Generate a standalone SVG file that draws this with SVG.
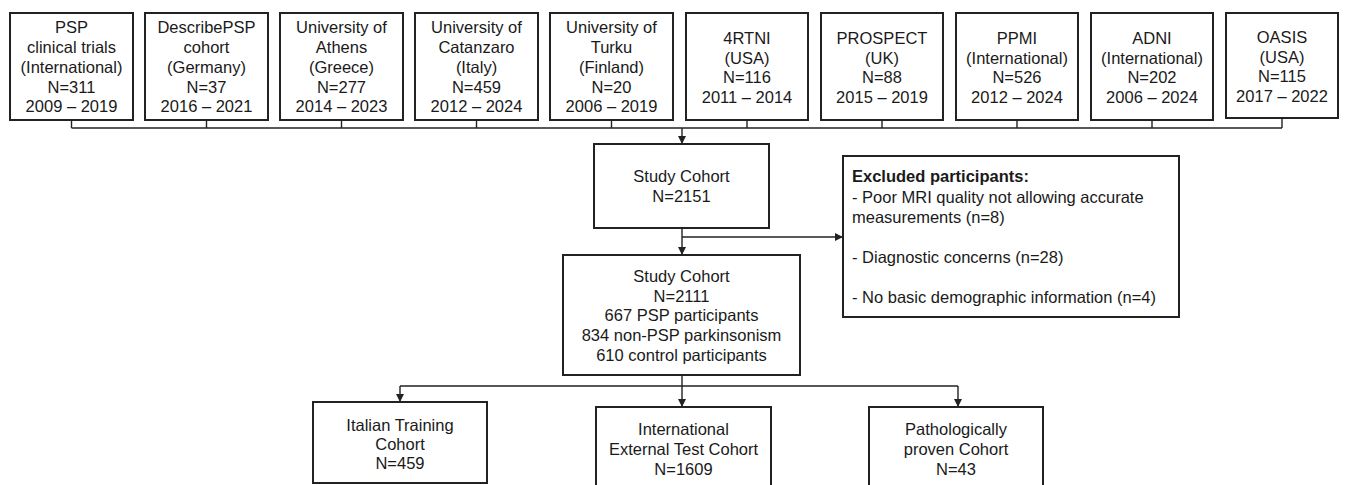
<svg xmlns="http://www.w3.org/2000/svg" width="1349" height="485" viewBox="0 0 1349 485">
<defs>
<style>
.box{fill:#fff;stroke:#222;stroke-width:2}
.ln{fill:none;stroke:#222;stroke-width:1.4}
text{font-family:"Liberation Sans",Arial,sans-serif;font-size:16.5px;fill:#1a1a1a}
.c{text-anchor:middle}
.b{font-weight:bold}
</style>
<marker id="ah" markerWidth="8" markerHeight="8" refX="7" refY="4" orient="auto" markerUnits="userSpaceOnUse">
<path d="M0,0 L8,4 L0,8 Z" fill="#222"/>
</marker>
</defs>
<rect width="1349" height="485" fill="#fff"/>

<g id="connectors">
<path class="ln" d="M71.5,120 V128 M206.5,120 V128 M341.5,120 V128 M476.5,120 V128 M611.5,120 V128 M747,120 V128 M882,120 V128 M1017,120 V128 M1152,120 V128 M1282,119 V128 M71.5,128 H1282"/>
<path class="ln" d="M682,128 V143" marker-end="url(#ah)"/>
<path class="ln" d="M682,228 V254" marker-end="url(#ah)"/>
<path class="ln" d="M682,237 H842" marker-end="url(#ah)"/>
<path class="ln" d="M682,375 V386 M400,386 H958"/>
<path class="ln" d="M400,386 V401" marker-end="url(#ah)"/>
<path class="ln" d="M682,386 V406" marker-end="url(#ah)"/>
<path class="ln" d="M958,386 V406" marker-end="url(#ah)"/>
</g>

<g id="n1"><rect class="box" x="10" y="13" width="123" height="107"/>
<text class="c" x="71.5" y="33">PSP</text><text class="c" x="71.5" y="53">clinical trials</text><text class="c" x="71.5" y="73">(International)</text><text class="c" x="71.5" y="92.5">N=311</text><text class="c" x="71.5" y="112">2009 – 2019</text></g>
<g id="n2"><rect class="box" x="145" y="13" width="123" height="107"/>
<text class="c" x="206.5" y="33">DescribePSP</text><text class="c" x="206.5" y="53">cohort</text><text class="c" x="206.5" y="73">(Germany)</text><text class="c" x="206.5" y="92.5">N=37</text><text class="c" x="206.5" y="112">2016 – 2021</text></g>
<g id="n3"><rect class="box" x="280" y="13" width="123" height="107"/>
<text class="c" x="341.5" y="33">University of</text><text class="c" x="341.5" y="53">Athens</text><text class="c" x="341.5" y="73">(Greece)</text><text class="c" x="341.5" y="92.5">N=277</text><text class="c" x="341.5" y="112">2014 – 2023</text></g>
<g id="n4"><rect class="box" x="415" y="13" width="123" height="107"/>
<text class="c" x="476.5" y="33">University of</text><text class="c" x="476.5" y="53">Catanzaro</text><text class="c" x="476.5" y="73">(Italy)</text><text class="c" x="476.5" y="92.5">N=459</text><text class="c" x="476.5" y="112">2012 – 2024</text></g>
<g id="n5"><rect class="box" x="550" y="13" width="123" height="107"/>
<text class="c" x="611.5" y="33">University of</text><text class="c" x="611.5" y="53">Turku</text><text class="c" x="611.5" y="73">(Finland)</text><text class="c" x="611.5" y="92.5">N=20</text><text class="c" x="611.5" y="112">2006 – 2019</text></g>
<g id="n6"><rect class="box" x="686" y="13" width="122" height="107"/>
<text class="c" x="747" y="44">4RTNI</text><text class="c" x="747" y="63.5">(USA)</text><text class="c" x="747" y="83">N=116</text><text class="c" x="747" y="102.5">2011 – 2014</text></g>
<g id="n7"><rect class="box" x="821" y="13" width="122" height="107"/>
<text class="c" x="882" y="44">PROSPECT</text><text class="c" x="882" y="63.5">(UK)</text><text class="c" x="882" y="83">N=88</text><text class="c" x="882" y="102.5">2015 – 2019</text></g>
<g id="n8"><rect class="box" x="956" y="13" width="122" height="107"/>
<text class="c" x="1017" y="44">PPMI</text><text class="c" x="1017" y="63.5">(International)</text><text class="c" x="1017" y="83">N=526</text><text class="c" x="1017" y="102.5">2012 – 2024</text></g>
<g id="n9"><rect class="box" x="1091" y="13" width="122" height="107"/>
<text class="c" x="1152" y="44">ADNI</text><text class="c" x="1152" y="63.5">(International)</text><text class="c" x="1152" y="83">N=202</text><text class="c" x="1152" y="102.5">2006 – 2024</text></g>
<g id="n10"><rect class="box" x="1226" y="13" width="112" height="105"/>
<text class="c" x="1282" y="43">OASIS</text><text class="c" x="1282" y="62.5">(USA)</text><text class="c" x="1282" y="82">N=115</text><text class="c" x="1282" y="101.5">2017 – 2022</text></g>

<g id="study1"><rect class="box" x="594" y="144" width="175" height="84"/>
<text class="c" x="681.5" y="182">Study Cohort</text><text class="c" x="681.5" y="202">N=2151</text></g>

<g id="excluded"><rect class="box" x="843" y="156" width="336" height="161"/>
<text class="b" x="852" y="182">Excluded participants:</text>
<text x="852" y="203">- Poor MRI quality not allowing accurate</text>
<text x="852" y="223">measurements (n=8)</text>
<text x="852" y="263">- Diagnostic concerns (n=28)</text>
<text x="852" y="303">- No basic demographic information (n=4)</text></g>

<g id="study2"><rect class="box" x="563" y="255" width="237" height="120"/>
<text class="c" x="681.5" y="282">Study Cohort</text><text class="c" x="681.5" y="302">N=2111</text><text class="c" x="681.5" y="321">667 PSP participants</text><text class="c" x="681.5" y="341">834 non-PSP parkinsonism</text><text class="c" x="681.5" y="361">610 control participants</text></g>

<g id="italian"><rect class="box" x="313" y="402" width="174" height="81"/>
<text class="c" x="400" y="431">Italian Training</text><text class="c" x="400" y="450">Cohort</text><text class="c" x="400" y="469">N=459</text></g>
<g id="international"><rect class="box" x="596" y="407" width="175" height="90"/>
<text class="c" x="683.5" y="435">International</text><text class="c" x="683.5" y="455">External Test Cohort</text><text class="c" x="683.5" y="475">N=1609</text></g>
<g id="patho"><rect class="box" x="869" y="407" width="174" height="90"/>
<text class="c" x="956" y="435">Pathologically</text><text class="c" x="956" y="455">proven Cohort</text><text class="c" x="956" y="475">N=43</text></g>
</svg>
